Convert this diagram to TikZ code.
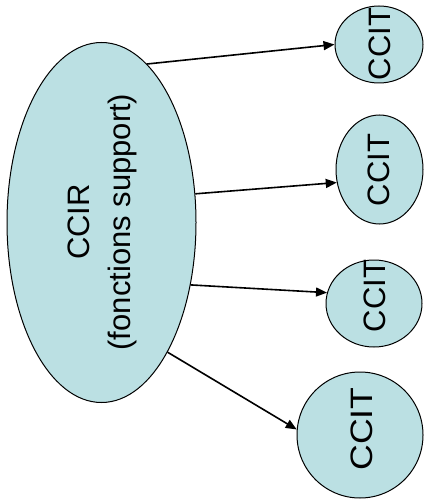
\documentclass[tikz,border=0pt]{standalone}
\usepackage{fontspec}
\setmainfont{Liberation Sans}
\usetikzlibrary{shapes.geometric,arrows.meta}
\definecolor{bubble}{RGB}{187,224,227}
\tikzset{
  bubble/.style={ellipse, draw=black, line width=1pt, fill=bubble, inner sep=0pt},
  label/.style={rotate=90, inner sep=0pt, align=center,
                font=\fontsize{31}{41}\selectfont},
  link/.style={line width=1.6pt, -{Triangle[length=11pt,width=9pt]}}
}
\begin{document}
\begin{tikzpicture}[x=1pt,y=-1pt]
  \useasboundingbox (0,0) rectangle (424,502);

  % central body and the four local chambers
  \node[bubble, minimum width=189pt, minimum height=360pt] (ccir) at (101.5,222.5) {};
  \node[bubble, minimum width=88pt,  minimum height=77pt]  (c1) at (379,44.5) {};
  \node[bubble, minimum width=87pt,  minimum height=109pt] (c2) at (379.5,169.5) {};
  \node[bubble, minimum width=96pt,  minimum height=87pt]  (c3) at (374,303.5) {};
  \node[bubble, minimum width=126pt, minimum height=126pt] (c4) at (360,435) {};

  % rotated captions
  \node[label] (tccir) at (102,222) {CCIR\\(fonctions support)};
  \node[label] (t1) at (380,44) {CCIT};
  \node[label] (t2) at (379,170) {CCIT};
  \node[label] (t3) at (375,296) {CCIT};
  \node[label] (t4) at (362,429) {\scalebox{1.15}[1]{CCIT}};

  % links from the regional body
  \draw[link] (ccir.74.4)  -- (c1.180);
  \draw[link] (ccir.17.5)  -- (c2.197);
  \draw[link] (ccir.-35)   -- (c3.167.7);
  \draw[link] (ccir.-63.3) -- (c4.175.6);
\end{tikzpicture}
\end{document}
